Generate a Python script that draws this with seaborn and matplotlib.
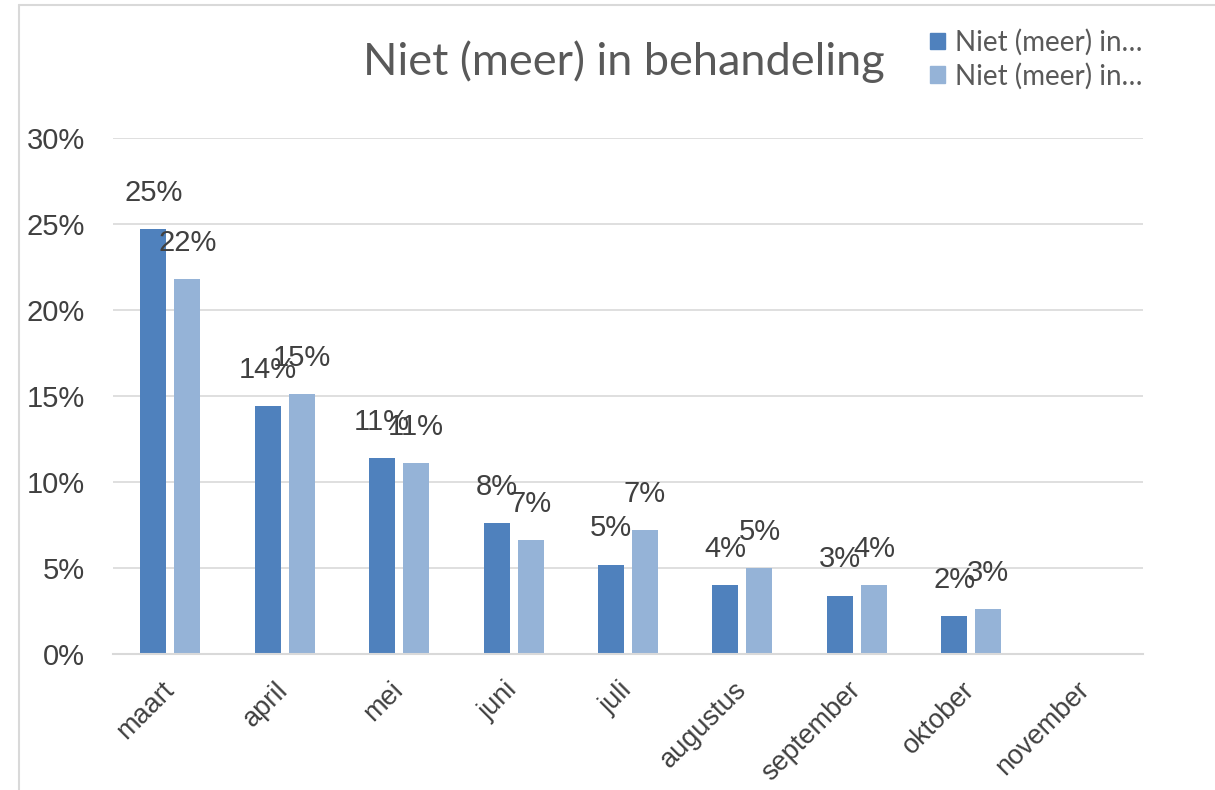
import matplotlib
matplotlib.use("Agg")
import matplotlib.pyplot as plt
import matplotlib.patches as mpatches
from matplotlib.ticker import FuncFormatter, MultipleLocator, FixedLocator
import seaborn as sns
import pandas as pd
import numpy as np

months = ["maart", "april", "mei", "juni", "juli", "augustus", "september", "oktober", "november"]
series_keys = ["serie 1", "serie 2"]
legend_labels = ["Niet (meer) in…", "Niet (meer) in…"]
serie1 = [24.7, 14.4, 11.4, 7.6, 5.2, 4.0, 3.4, 2.2, np.nan]
serie2 = [21.8, 15.1, 11.1, 6.6, 7.2, 5.0, 4.0, 2.6, np.nan]
title = "Niet (meer) in behandeling"
colors = ["#4F81BD", "#95B3D7"]

df = pd.DataFrame({
    "maand": months * 2,
    "serie": [series_keys[0]] * len(months) + [series_keys[1]] * len(months),
    "waarde": serie1 + serie2,
})

sns.set_theme(style="white")
plt.rcParams["font.family"] = ["Liberation Sans", "DejaVu Sans"]

fig = plt.figure(figsize=(12.15, 7.9), dpi=100)
ax = fig.add_axes([113 / 1215, 1 - 654 / 790, (1143 - 113) / 1215, (654 - 138) / 790])

sns.barplot(data=df, x="maand", y="waarde", hue="serie", order=months,
            hue_order=series_keys, palette=colors, width=0.594, gap=0.235,
            saturation=1, ax=ax, legend=False, edgecolor="none")

ax.set_ylim(0, 30)
ax.set_xlim(-0.5, len(months) - 0.5)
ax.yaxis.set_major_locator(MultipleLocator(5))
ax.yaxis.set_major_formatter(FuncFormatter(lambda v, p: f"{v:.0f}%"))
ax.grid(axis="y", color="#d9d9d9", linewidth=1.2)
ax.set_axisbelow(True)
for s in ["top", "right", "left"]:
    ax.spines[s].set_visible(False)
ax.spines["bottom"].set_color("#d9d9d9")
ax.spines["bottom"].set_linewidth(1.5)
ax.set_xlabel("")
ax.set_ylabel("")

ax.tick_params(axis="y", length=0, labelsize=21, labelcolor="#404040", pad=20)
ax.tick_params(axis="x", which="major", length=0, labelsize=19.5, labelcolor="#404040", pad=23)
ax.xaxis.set_minor_locator(FixedLocator(np.arange(-0.5, len(months), 1)))
ax.tick_params(axis="x", which="minor", length=7, color="#d9d9d9", width=1.5, direction="out")
for lbl in ax.get_xticklabels():
    lbl.set_rotation(45)
    lbl.set_ha("right")
    lbl.set_va("center")
    lbl.set_rotation_mode("anchor")

for container in ax.containers:
    labels = [("" if np.isnan(v) else f"{v:.0f}%") for v in container.datavalues]
    ax.bar_label(container, labels=labels, padding=16, fontsize=21, color="#404040")

fig.text(624 / 1215, 1 - 62 / 790, title, ha="center", va="center",
         fontsize=32.5, color="#595959", family=["Lato", "DejaVu Sans"])

handles = [mpatches.Patch(color=c) for c in colors]
leg = fig.legend(handles, legend_labels, loc="upper left",
                 bbox_to_anchor=(930 / 1215, 1 - 29 / 790), frameon=False,
                 prop={"family": ["Lato", "DejaVu Sans"], "size": 20},
                 handlelength=0.55, handleheight=0.55, handletextpad=0.35,
                 labelspacing=0.25, borderaxespad=0, borderpad=0)
for t in leg.get_texts():
    t.set_color("#595959")

fig.add_artist(plt.Line2D([19 / 1215, 1], [1 - 5 / 790, 1 - 5 / 790],
                          transform=fig.transFigure, color="#d9d9d9", linewidth=1.5))
fig.add_artist(plt.Line2D([19 / 1215, 19 / 1215], [0, 1 - 5 / 790],
                          transform=fig.transFigure, color="#d9d9d9", linewidth=1.5))

fig.savefig("out.png", dpi=100)
